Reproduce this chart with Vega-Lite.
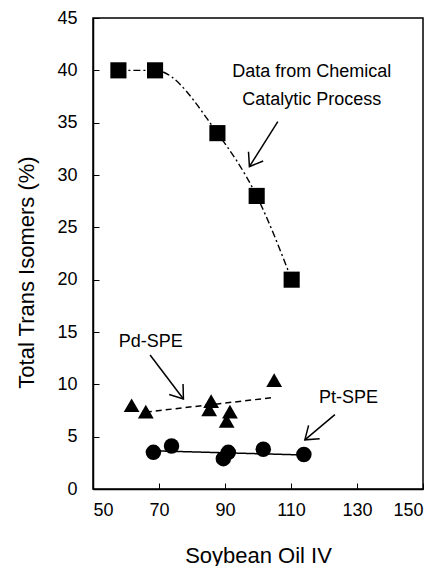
{
  "$schema": "https://vega.github.io/schema/vega-lite/v6.json",
  "width": 330,
  "height": 471,
  "autosize": "none",
  "padding": {"left": 93, "top": 18, "right": 17, "bottom": 77},
  "background": "white",
  "config": {
    "font": "Liberation Sans",
    "view": {"stroke": "black", "strokeWidth": 1.5},
    "axis": {
      "grid": false,
      "domainColor": "black",
      "domainWidth": 1.5,
      "tickColor": "black",
      "tickWidth": 1,
      "tickSize": -6,
      "labelFont": "Liberation Sans",
      "labelFontSize": 18,
      "labelColor": "black",
      "titleFont": "Liberation Sans",
      "titleFontSize": 22,
      "titleFontWeight": "normal",
      "titleColor": "black"
    }
  },
  "datasets": {
    "pts": [
      {"series": "Chemical", "iv": 57.7, "trans": 40.0},
      {"series": "Chemical", "iv": 68.8, "trans": 40.0},
      {"series": "Chemical", "iv": 87.7, "trans": 34.0},
      {"series": "Chemical", "iv": 99.6, "trans": 28.0},
      {"series": "Chemical", "iv": 110.2, "trans": 20.0},
      {"series": "Pd-SPE", "iv": 61.7, "trans": 8.0},
      {"series": "Pd-SPE", "iv": 66.0, "trans": 7.4},
      {"series": "Pd-SPE", "iv": 85.8, "trans": 8.4},
      {"series": "Pd-SPE", "iv": 85.2, "trans": 7.6},
      {"series": "Pd-SPE", "iv": 90.5, "trans": 6.5},
      {"series": "Pd-SPE", "iv": 91.5, "trans": 7.4},
      {"series": "Pd-SPE", "iv": 104.9, "trans": 10.4},
      {"series": "Pt-SPE", "iv": 68.3, "trans": 3.5},
      {"series": "Pt-SPE", "iv": 73.8, "trans": 4.1},
      {"series": "Pt-SPE", "iv": 89.5, "trans": 2.9},
      {"series": "Pt-SPE", "iv": 91.0, "trans": 3.5},
      {"series": "Pt-SPE", "iv": 101.6, "trans": 3.8},
      {"series": "Pt-SPE", "iv": 113.9, "trans": 3.3}
    ],
    "fits": [
      {"series": "Pd-SPE", "iv": 66.0, "trans": 7.35},
      {"series": "Pd-SPE", "iv": 105.0, "trans": 8.75},
      {"series": "Pt-SPE", "iv": 68.3, "trans": 3.65},
      {"series": "Pt-SPE", "iv": 113.9, "trans": 3.25}
    ],
    "notes": [
      {"label": "Data from Chemical", "iv": 116.3, "trans": 39.4},
      {"label": "Catalytic Process", "iv": 116.3, "trans": 36.7},
      {"label": "Pd-SPE", "iv": 67.5, "trans": 13.6},
      {"label": "Pt-SPE", "iv": 127.4, "trans": 8.2}
    ],
    "arrows": [
      {"iv": 106.0, "trans": 35.1, "iv2": 97.4, "trans2": 30.8, "angle": 32},
      {"iv": 67.3, "trans": 12.8, "iv2": 77.4, "trans2": 8.6, "angle": -37},
      {"iv": 123.3, "trans": 7.1, "iv2": 114.2, "trans2": 4.7, "angle": 50}
    ]
  },
  "encoding": {
    "x": {
      "field": "iv", "type": "quantitative",
      "scale": {"domain": [50, 150], "nice": false, "zero": false},
      "axis": {"values": [50, 70, 90, 110, 130, 150], "title": "Soybean Oil IV", "titleBaseline": "alphabetic", "titleY": 73, "labelPadding": 18}
    },
    "y": {
      "field": "trans", "type": "quantitative",
      "scale": {"domain": [0, 45], "nice": false},
      "axis": {"values": [0, 5, 10, 15, 20, 25, 30, 35, 40, 45], "title": "Total Trans Isomers (%)", "titleBaseline": "alphabetic", "titleX": -60, "titleY": 254, "labelPadding": 22}
    }
  },
  "layer": [
    {
      "data": {"name": "pts"},
      "transform": [{"filter": "datum.series === 'Chemical'"}],
      "mark": {"type": "line", "interpolate": "monotone", "color": "black", "strokeWidth": 1.4, "strokeDash": [7, 3, 2, 3]}
    },
    {
      "data": {"name": "fits"},
      "mark": {"type": "line", "color": "black", "strokeWidth": 1.5},
      "encoding": {
        "detail": {"field": "series"},
        "strokeDash": {"field": "series", "type": "nominal", "scale": {"domain": ["Pd-SPE", "Pt-SPE"], "range": [[6, 4], [1, 0]]}, "legend": null}
      }
    },
    {
      "data": {"name": "pts"},
      "mark": {"type": "point", "filled": true, "opacity": 1, "color": "black"},
      "encoding": {
        "shape": {"field": "series", "type": "nominal", "scale": {"domain": ["Chemical", "Pd-SPE", "Pt-SPE"], "range": ["square", "triangle-up", "circle"]}, "legend": null},
        "size": {"field": "series", "type": "nominal", "scale": {"domain": ["Chemical", "Pd-SPE", "Pt-SPE"], "range": [260, 240, 160]}, "legend": null}
      }
    },
    {
      "data": {"name": "notes"},
      "mark": {"type": "text", "font": "Liberation Sans", "fontSize": 18, "color": "black", "align": "center", "baseline": "alphabetic"},
      "encoding": {"text": {"field": "label"}}
    },
    {
      "data": {"name": "arrows"},
      "mark": {"type": "rule", "color": "black", "strokeWidth": 1.5},
      "encoding": {"x2": {"field": "iv2"}, "y2": {"field": "trans2"}}
    },
    {
      "data": {"name": "arrows"},
      "mark": {"type": "point", "shape": "M-1,-1.4L0,0L1,-1.4", "filled": false, "opacity": 1, "color": "black", "strokeWidth": 1.5, "size": 300},
      "encoding": {
        "x": {"field": "iv2", "type": "quantitative"},
        "y": {"field": "trans2", "type": "quantitative"},
        "angle": {"field": "angle", "type": "quantitative", "scale": null}
      }
    }
  ]
}
